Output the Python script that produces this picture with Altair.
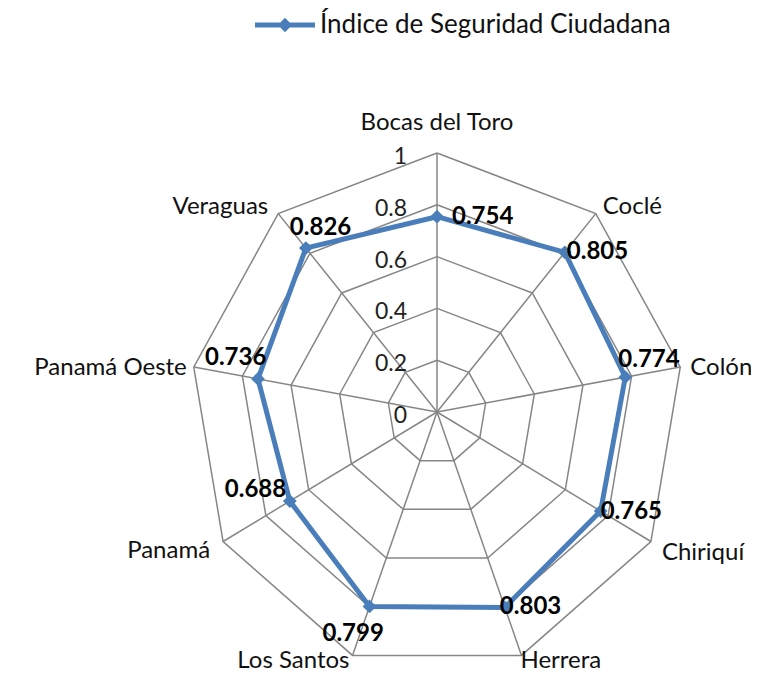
import altair as alt
import numpy as np
import pandas as pd

# ---------------- data ----------------
categories = ["Bocas del Toro", "Coclé", "Colón", "Chiriquí", "Herrera",
              "Los Santos", "Panamá", "Panamá Oeste", "Veraguas"]
values = [0.754, 0.805, 0.774, 0.765, 0.803, 0.799, 0.688, 0.736, 0.826]
series_name = "Índice de Seguridad Ciudadana"
grid_levels = [0.2, 0.4, 0.6, 0.8, 1.0]
tick_values = [0, 0.2, 0.4, 0.6, 0.8, 1.0]
tick_labels = ["0", "0.2", "0.4", "0.6", "0.8", "1"]

# ---------------- layout / style ----------------
W, H = 743, 665
CX, CY = 429, 404          # centre of the radar in chart pixels
RX, RY = 247, 259          # pixel radius of value 1 (x, y)
FONT = "Lato"
LINE_COLOR = "#4A7EBB"
GRID_COLOR = "#868686"

# value-label offsets (px) relative to their point
value_label_offsets = [(15, 0), (2, 0), (-7, -17), (0, 1), (-5, 0),
                       (-47, 28), (-65, -11), (-53, -21), (-16, -20)]
# category-label offsets (px) relative to the outer vertex, plus alignment
cat_label_offsets = [(0, -30, "center"), (7, -7, "left"), (10, 1, "left"),
                     (11, 11, "left"), (-1, 6, "left"), (-3, 6, "right"),
                     (-13, 9, "right"), (-7, 1, "right"), (-10, -7, "right")]

n = len(categories)
theta = [2 * np.pi * i / n for i in range(n)]

xs = alt.Scale(domain=[-1, 1], range=[CX - RX, CX + RX])
ys = alt.Scale(domain=[-1, 1], range=[CY + RY, CY - RY])

def X(f):
    return alt.X(f"{f}:Q", scale=xs, axis=None)

def Y(f):
    return alt.Y(f"{f}:Q", scale=ys, axis=None)

# grid polygons
grid_rows = []
for lv in grid_levels:
    for k in range(n + 1):
        t = theta[k % n]
        grid_rows.append({"level": lv, "ord": k,
                          "x": lv * np.sin(t), "y": lv * np.cos(t)})
grid_df = pd.DataFrame(grid_rows)

# spokes
spoke_df = pd.DataFrame({"x0": [0.0] * n, "y0": [0.0] * n,
                         "x": [np.sin(t) for t in theta],
                         "y": [np.cos(t) for t in theta]})

# series
ser_rows = []
for k in range(n + 1):
    i = k % n
    ser_rows.append({"ord": k, "cat": categories[i], "series": series_name,
                     "x": values[i] * np.sin(theta[i]),
                     "y": values[i] * np.cos(theta[i])})
ser_df = pd.DataFrame(ser_rows)
pt_df = ser_df.iloc[:n].copy()

lab_df = pd.DataFrame({
    "label": [f"{v:.3f}" for v in values],
    "lx": [values[i] * np.sin(theta[i]) + value_label_offsets[i][0] / RX for i in range(n)],
    "ly": [values[i] * np.cos(theta[i]) - value_label_offsets[i][1] / RY for i in range(n)],
})

cat_df = pd.DataFrame({
    "cat": categories,
    "al": [c[2] for c in cat_label_offsets],
    "lx": [np.sin(theta[i]) + cat_label_offsets[i][0] / RX for i in range(n)],
    "ly": [np.cos(theta[i]) - cat_label_offsets[i][1] / RY for i in range(n)],
})

tick_df = pd.DataFrame({"x": [0.0] * len(tick_values), "y": tick_values,
                        "t": tick_labels})

grid = alt.Chart(grid_df).mark_line(color=GRID_COLOR, strokeWidth=1.5).encode(
    x=X("x"), y=Y("y"), detail="level:N", order="ord:Q")

spokes = alt.Chart(spoke_df).mark_rule(color=GRID_COLOR, strokeWidth=1.5).encode(
    x=X("x0"), y=Y("y0"), x2="x:Q", y2="y:Q")

ticks = alt.Chart(tick_df).mark_text(
    font=FONT, fontSize=23, align="right", baseline="middle",
    dx=-30, dy=4, color="#222222").encode(x=X("x"), y=Y("y"), text="t:N")

line = alt.Chart(ser_df).mark_line(color=LINE_COLOR, strokeWidth=5).encode(
    x=X("x"), y=Y("y"), order="ord:Q")

legend_path = ("M-1,-0.085L1,-0.085L1,0.085L-1,0.085Z "
               "M0,-0.24L0.24,0L0,0.24L-0.24,0Z")

points = alt.Chart(pt_df).mark_point(shape="diamond", filled=True, size=190,
                                     opacity=1).encode(
    x=X("x"), y=Y("y"),
    color=alt.Color("series:N",
                    scale=alt.Scale(domain=[series_name], range=[LINE_COLOR]),
                    legend=alt.Legend(title=None, orient="none",
                                      legendX=247, legendY=-13,
                                      symbolType=legend_path, symbolSize=3600,
                                      symbolStrokeWidth=0, symbolOpacity=1,
                                      labelFont=FONT, labelFontSize=26,
                                      labelColor="#111111", labelOffset=5,
                                      labelLimit=600, padding=0)))

vlabels = alt.Chart(lab_df).mark_text(
    font=FONT, fontSize=24, fontWeight="bold", align="left",
    baseline="middle", color="black").encode(x=X("lx"), y=Y("ly"), text="label:N")

cat_layers = []
for al in ["left", "center", "right"]:
    cat_layers.append(
        alt.Chart(cat_df).transform_filter(alt.datum.al == al).mark_text(
            font=FONT, fontSize=24, align=al, baseline="middle",
            color="#111111").encode(x=X("lx"), y=Y("ly"), text="cat:N"))

chart = alt.layer(grid, spokes, ticks, line, points, vlabels, *cat_layers).properties(
    width=W, height=H, padding=0,
    autosize=alt.AutoSizeParams(type="none"),
).configure_view(stroke=None)

chart.save("out.html", embed_options={"renderer": "svg", "actions": False})
